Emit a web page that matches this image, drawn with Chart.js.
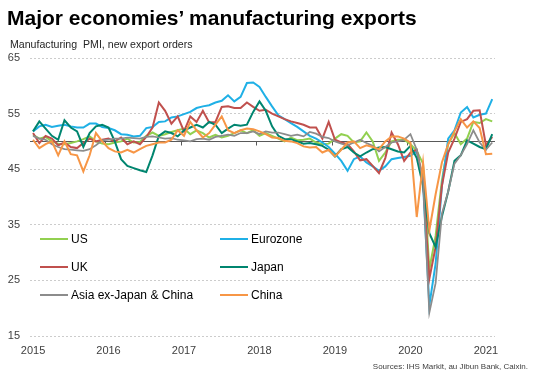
<!DOCTYPE html>
<html>
<head>
<meta charset="utf-8">
<script src="https://cdn.jsdelivr.net/npm/chart.js@4.4.1/dist/chart.umd.min.js"></script>
<style>
html,body{margin:0;padding:0;background:#fff;}
body{width:536px;height:381px;position:relative;overflow:hidden;font-family:"Liberation Sans",Arial,sans-serif;}
#title{position:absolute;left:7px;top:7px;font-size:21px;line-height:21px;font-weight:bold;color:#000;white-space:nowrap;}
#subtitle{position:absolute;left:10px;top:39px;font-size:10.6px;line-height:11px;color:#262626;white-space:pre;}
#source{position:absolute;right:8px;top:362px;font-size:8px;line-height:9px;color:#404040;white-space:nowrap;}
#cv{position:absolute;left:0;top:0;}
.leg{position:absolute;font-size:12px;line-height:14px;color:#000;white-space:nowrap;display:flex;align-items:center;}
.leg .sw{display:inline-block;width:28px;height:2px;margin-right:3px;}
</style>
</head>
<body>
<canvas id="cv" width="536" height="381"></canvas>
<div id="title">Major economies’ manufacturing exports</div>
<div id="subtitle">Manufacturing  PMI, new export orders</div>
<div id="source">Sources: IHS Markit, au Jibun Bank, Caixin.</div>
<div id="legend"></div>
<script>
// Monthly data, Jan 2015 .. Feb 2021 (74 months)
const startYear = 2015;
const yearTicks = [2015, 2016, 2017, 2018, 2019, 2020, 2021];
const yTicksMin = 15, yTicksMax = 65, yStep = 10;
const baselineValue = 50;

const seriesNames = ["US", "Eurozone", "UK", "Japan", "Asia ex-Japan & China", "China"];
const seriesColors = ["#92D050", "#1FB0E6", "#C0504D", "#00856F", "#8C8C8C", "#F79646"];

const us = [
  51.2, 50.5, 50.8, 50.0, 49.6, 49.5, 49.7, 50.0, 50.4, 50.9, 50.0, 49.6,
  49.5, 49.8, 50.0, 50.5, 49.8, 49.9, 51.0, 51.6, 51.0, 51.3, 51.7, 52.0,
  52.3, 51.3, 52.0, 51.5, 50.7, 51.2, 50.7, 51.0, 51.5, 52.0, 51.5, 52.0,
  51.0, 51.5, 51.0, 50.5, 50.0, 50.7, 50.2, 50.3, 50.5, 49.8, 49.5, 49.6,
  50.5, 51.3, 51.0, 49.8, 50.0, 51.6, 50.0, 46.5, 48.0, 50.0, 50.3, 50.3,
  49.5, 48.3, 46.0, 27.0, 33.0, 43.0, 49.5, 51.5, 49.5, 50.5, 53.5, 53.3,
  54.0, 53.6
];
const eurozone = [
  51.8, 52.7, 53.0, 52.6, 52.8, 53.0, 52.7, 52.5, 52.5, 53.2, 53.2, 52.6,
  52.4, 52.0, 51.3, 51.2, 50.9, 51.0, 52.4, 52.6, 53.5, 53.6, 54.3, 54.5,
  54.9, 55.3, 56.0, 56.3, 56.5, 57.0, 57.3, 58.3, 57.2, 58.0, 60.5, 60.6,
  59.8, 58.0, 56.3, 54.7, 54.0, 53.3, 52.6, 51.8, 51.0, 50.5, 49.8, 49.0,
  47.8, 46.5, 44.7, 46.8, 47.3, 46.2, 45.5, 44.7, 45.5, 46.8, 47.0, 47.2,
  47.4, 48.2, 42.5, 20.5, 28.0, 42.0, 50.5, 52.0, 55.2, 56.2, 54.3, 54.8,
  55.0, 57.6
];
const uk = [
  51.5, 49.7, 51.0, 50.5, 49.3, 49.8, 49.0, 48.8, 49.7, 50.5, 50.0, 50.3,
  50.5, 50.0, 50.7, 49.5, 50.0, 49.5, 50.8, 52.5, 57.0, 55.5, 53.2, 54.5,
  51.8, 54.5, 53.5, 55.5, 53.4, 53.5, 56.2, 56.3, 56.0, 56.0, 57.0, 56.2,
  55.5, 55.7, 55.0, 54.5, 54.0, 53.6, 53.3, 53.0, 52.5, 52.5, 50.5, 53.5,
  50.3, 49.8, 49.5, 48.2, 46.6, 46.8, 45.6, 44.3, 47.0, 51.6, 49.5, 46.5,
  48.0, 48.5, 43.0, 25.3, 31.0, 42.0, 48.0, 50.5, 53.5, 54.0, 55.5, 55.6,
  49.3, 50.8
];
const japan = [
  51.8, 53.6, 52.3, 51.0, 50.3, 53.8, 52.5, 51.8, 49.0, 51.5, 52.7, 53.0,
  52.5, 50.0, 46.8, 45.6, 45.2, 44.8, 44.5, 47.5, 51.0, 51.8, 51.5, 50.9,
  52.0, 52.5, 53.0, 52.5, 53.5, 53.0, 51.5, 52.3, 53.0, 52.8, 53.0, 55.3,
  57.2, 55.5, 52.7, 51.0, 50.4, 50.4, 50.0, 49.6, 49.7, 49.5, 49.2, 48.5,
  47.3, 48.6, 49.0, 48.0, 47.3, 48.0, 48.6, 48.9, 49.0, 48.6, 48.2, 48.0,
  49.2, 47.0, 42.0, 33.5, 31.0, 36.5, 41.0, 46.5, 47.5, 50.2, 49.6, 49.0,
  48.6, 51.3
];
const asiaExJapanChina = [
  51.0, 50.5, 50.3, 49.5, 49.0, 48.6, 48.5, 48.4, 48.3, 48.6, 49.3, 50.2,
  50.3, 50.5, 50.5, 50.7, 50.6, 50.5, 50.8, 50.9, 50.7, 50.5, 50.6, 50.3,
  50.2, 50.0, 50.4, 50.5, 50.3, 50.8, 51.0, 51.2, 51.0, 51.5, 51.5, 51.8,
  51.3, 51.8, 51.6, 51.6, 51.3, 51.0, 51.2, 50.9, 51.7, 51.4, 50.8, 50.6,
  50.0, 49.6, 49.3, 49.8, 50.3, 49.7, 49.2, 48.2, 49.0, 49.8, 50.0, 50.3,
  51.3, 48.5, 43.0, 19.2, 24.5, 37.0, 41.0, 46.0, 47.5, 49.5, 52.0, 49.8,
  48.5, 49.8
];
const china = [
  50.3, 48.8, 49.5, 50.0, 47.5, 50.0, 47.7, 47.5, 44.6, 47.5, 51.5, 50.0,
  48.8, 48.2, 48.0, 48.5, 48.0, 48.6, 49.2, 49.5, 49.8, 49.8, 50.3, 52.0,
  51.0, 53.5, 52.0, 50.7, 51.5, 53.0, 54.5, 52.0, 51.5, 52.0, 52.3, 52.2,
  51.8, 51.3, 50.7, 50.6, 50.1, 50.0, 49.7, 49.1, 48.9, 49.0, 48.0, 48.5,
  47.3, 48.5, 49.8, 50.0, 48.8, 49.3, 49.0, 48.6, 50.0, 50.9, 50.9, 50.5,
  49.8, 36.4, 46.2, 34.0, 40.5, 46.2, 49.5, 51.8, 54.0, 52.5, 53.6, 52.4,
  47.7, 47.8
];

const seriesValues = [us, eurozone, uk, japan, asiaExJapanChina, china];
const FONT = '"Liberation Sans", Arial, sans-serif';

// monthly position: Jan of a year sits on the year tick
function toPoints(values) {
  return values.map((v, i) => ({ x: startYear + i / 12, y: v }));
}

const datasets = seriesValues.map((vals, k) => ({
  label: seriesNames[k],
  data: toPoints(vals),
  borderColor: seriesColors[k],
  backgroundColor: seriesColors[k],
  borderWidth: k === 4 ? 1.75 : 2,
  pointRadius: 0,
  tension: 0,
  fill: false,
  order: seriesValues.length - k
}));

const baselinePlugin = {
  id: 'baseline50',
  beforeDatasetsDraw(chart) {
    const { ctx, chartArea: a, scales: { x, y } } = chart;
    const py = Math.round(y.getPixelForValue(baselineValue)) + 0.5;
    ctx.save();
    ctx.strokeStyle = '#595959';
    ctx.lineWidth = 1;
    ctx.beginPath();
    ctx.moveTo(a.left, py);
    ctx.lineTo(a.right, py);
    yearTicks.slice(1).forEach(t => {
      const px = Math.round(x.getPixelForValue(t - 1 / 24)) + 0.5;
      ctx.moveTo(px, py);
      ctx.lineTo(px, py + 4);
    });
    ctx.stroke();
    ctx.restore();
  }
};

new Chart(document.getElementById('cv'), {
  type: 'line',
  data: { datasets },
  options: {
    responsive: false,
    animation: false,
    events: [],
    layout: { padding: { left: 0, right: 41, top: 58, bottom: 20 } },
    plugins: { legend: { display: false }, tooltip: { enabled: false } },
    scales: {
      x: {
        type: 'linear',
        min: 2014.96,
        max: 2021.12,
        afterBuildTicks: s => { s.ticks = yearTicks.map(v => ({ value: v })); },
        afterFit: s => { s.height = 25; },
        grid: { display: false, drawTicks: false },
        border: { display: false },
        ticks: {
          font: { family: FONT, size: 11 },
          color: '#404040',
          padding: 8,
          maxRotation: 0,
          autoSkip: false,
          callback: v => String(v)
        }
      },
      y: {
        min: yTicksMin,
        max: yTicksMax,
        afterFit: s => { s.width = 30; },
        ticks: {
          stepSize: yStep,
          font: { family: FONT, size: 11 },
          color: '#404040',
          padding: 10
        },
        grid: { color: '#CCCCCC', drawTicks: false, lineWidth: 1 },
        border: { display: false, dash: [2, 2] }
      }
    }
  },
  plugins: [baselinePlugin]
});

// Legend (two columns, three rows, inside the plot)
const legendCols = [40, 220];
const legendRows = [239, 267, 295];
const legendEl = document.getElementById('legend');
seriesNames.forEach((name, k) => {
  const d = document.createElement('div');
  d.className = 'leg';
  d.style.left = legendCols[k % 2] + 'px';
  d.style.top = (legendRows[Math.floor(k / 2)] - 7) + 'px';
  const sw = document.createElement('span');
  sw.className = 'sw';
  sw.style.background = seriesColors[k];
  const t = document.createElement('span');
  t.textContent = name;
  d.appendChild(sw);
  d.appendChild(t);
  legendEl.appendChild(d);
});
</script>
</body>
</html>
